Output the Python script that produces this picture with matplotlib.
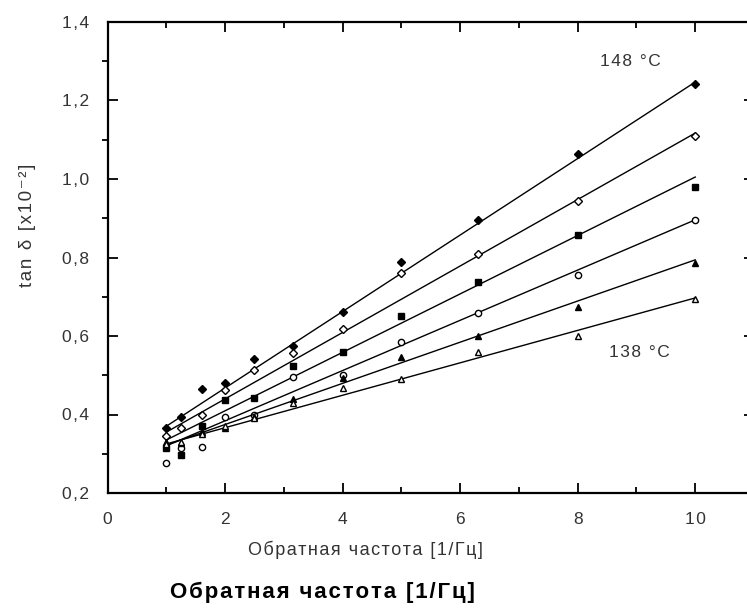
import matplotlib
matplotlib.use("Agg")
import matplotlib.pyplot as plt
import numpy as np
from matplotlib.ticker import MultipleLocator, FuncFormatter

plt.rcParams['font.family'] = ['Liberation Sans', 'DejaVu Sans']

# reciprocal frequency, 1/Hz
inv_freq = [1.0, 1.25, 1.6, 2.0, 2.5, 3.16, 4.0, 5.0, 6.3, 8.0, 10.0]

# tan delta x10^-2, top (148 C) to bottom (138 C)
tan_1 = [0.365, 0.394, 0.465, 0.480, 0.541, 0.575, 0.660, 0.789, 0.896, 1.063, 1.243]
tan_2 = [0.345, 0.366, 0.400, 0.462, 0.513, 0.556, 0.618, 0.760, 0.809, 0.943, 1.110]
tan_3 = [0.315, 0.297, 0.370, 0.437, 0.442, 0.523, 0.560, 0.651, 0.738, 0.857, 0.980]
tan_4 = [0.277, 0.314, 0.317, 0.394, 0.400, 0.495, 0.500, 0.585, 0.659, 0.755, 0.895]
tan_5 = [0.330, 0.327, 0.355, 0.366, 0.394, 0.440, 0.493, 0.546, 0.600, 0.674, 0.786]
tan_6 = [0.325, 0.330, 0.350, 0.370, 0.390, 0.430, 0.467, 0.490, 0.559, 0.600, 0.694]

# fitted lines: value at x=1 and at x=10
fit_start = [0.370, 0.355, 0.335, 0.320, 0.322, 0.325]
fit_end = [1.247, 1.117, 1.005, 0.896, 0.794, 0.697]
fit_x = [1.0, 10.0]

series = [tan_1, tan_2, tan_3, tan_4, tan_5, tan_6]
markers = [('D', 'k'), ('D', 'w'), ('s', 'k'), ('o', 'w'), ('^', 'k'), ('^', 'w')]

label_hot = "148 °C"
label_cold = "138 °C"
xlabel = "Обратная частота [1/Гц]"
ylabel = "tan δ [x10⁻²]"


def spaced(s, sep='\u200a'):
    # the original software draws text with a little letter spacing
    return sep.join(s)


fig = plt.figure(figsize=(7.47, 6.14), dpi=100)
ax = fig.add_axes([107.5 / 747, 121 / 614, 646.5 / 747, 471 / 614])

for s, (m, fc), y0, y1 in zip(series, markers, fit_start, fit_end):
    ax.plot(fit_x, [y0, y1], color='k', lw=1.0)
    ax.plot(inv_freq, s, ls='none', marker=m, ms=4.5, mfc=fc, mec='k', mew=1.0)

ax.set_xlim(0, 11)
ax.set_ylim(0.2, 1.4)
ax.xaxis.set_major_locator(MultipleLocator(2))
ax.xaxis.set_minor_locator(MultipleLocator(1))
ax.yaxis.set_major_locator(MultipleLocator(0.2))
ax.yaxis.set_minor_locator(MultipleLocator(0.1))
ax.yaxis.set_major_formatter(FuncFormatter(lambda v, p: spaced(f'{v:.1f}'.replace('.', ','))))
ax.xaxis.set_major_formatter(FuncFormatter(lambda v, p: spaced(f'{v:.0f}')))

ax.tick_params(which='both', top=True, right=True, direction='in', width=1.3,
               labelsize=12.5, labelcolor='#333333')
ax.tick_params(which='major', length=7)
ax.tick_params(which='minor', length=4)
ax.tick_params(axis='y', which='major', pad=13)
ax.tick_params(axis='x', which='major', pad=14)
ax.tick_params(axis='y', which='minor', direction='out')
for sp in ax.spines.values():
    sp.set_linewidth(1.6)

ax.text(8.89, 1.30, spaced(label_hot), fontsize=12.5, color='#333333', ha='center', va='center')
ax.text(9.05, 0.557, spaced(label_cold), fontsize=12.5, color='#333333', ha='center', va='center')

fig.text(28 / 747, 1 - 225 / 614, spaced(ylabel), rotation=90, fontsize=13.5, color='#333333',
         ha='center', va='center')
fig.text(365 / 747, 1 - 550 / 614, spaced(xlabel), fontsize=13, color='#333333',
         ha='center', va='center')
fig.text(322 / 747, 1 - 592 / 614, spaced(xlabel), fontsize=16, fontweight='bold',
         color='k', ha='center', va='center')

fig.savefig('out.png', dpi=100)
